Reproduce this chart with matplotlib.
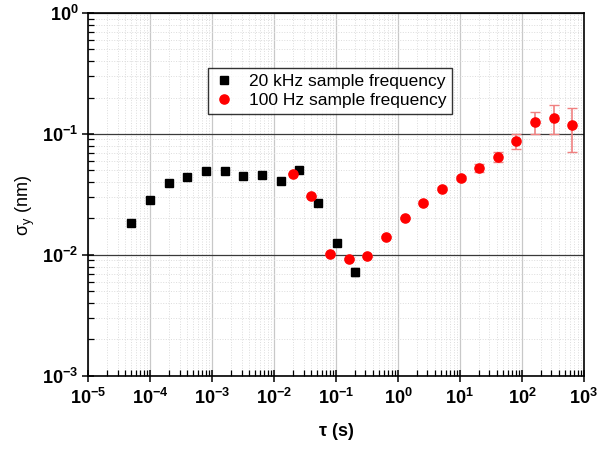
import matplotlib
matplotlib.use("Agg")
import matplotlib.pyplot as plt
from matplotlib.ticker import FixedLocator, FixedFormatter, LogLocator, NullFormatter

plt.rcParams['font.family'] = ['Liberation Sans', 'DejaVu Sans']
plt.rcParams['mathtext.fontset'] = 'custom'
plt.rcParams['mathtext.rm'] = 'Liberation Sans'
plt.rcParams['mathtext.bf'] = 'Liberation Sans:bold'
plt.rcParams['mathtext.it'] = 'Liberation Sans:italic'

# 20 kHz series
tau_fast = [5e-5, 1e-4, 2e-4, 4e-4, 8e-4, 1.6e-3, 3.2e-3, 6.4e-3,
            1.28e-2, 2.56e-2, 5.12e-2, 0.1024, 0.2048]
sig_fast = [0.0184, 0.0286, 0.0391, 0.0441, 0.0495, 0.0497, 0.0447, 0.0458,
            0.0411, 0.0507, 0.0267, 0.0125, 0.00724]
err_fast = [0.0003, 0.0003, 0.0003, 0.0003, 0.0003, 0.0003, 0.0003, 0.0003,
            0.0004, 0.0005, 0.0005, 0.0004, 0.0005]

# 100 Hz series
tau_slow = [0.02, 0.04, 0.08, 0.16, 0.32, 0.64, 1.28, 2.56, 5.12, 10.24,
            20.48, 40.96, 81.92, 163.84, 327.68, 655.36]
sig_slow = [0.0470, 0.0306, 0.0102, 0.0093, 0.0098, 0.0141, 0.0202, 0.0271,
            0.0353, 0.0435, 0.0527, 0.0649, 0.0870, 0.1257, 0.1364, 0.118]
err_slow = [0.0004, 0.0003, 0.0002, 0.0002, 0.0002, 0.0003, 0.0004, 0.0006,
            0.0009, 0.0015, 0.0038, 0.0060, 0.0120, 0.025, 0.036, 0.047]

xdecades = [-5, -4, -3, -2, -1, 0, 1, 2, 3]
ydecades = [-3, -2, -1, 0]

fig = plt.figure(figsize=(6.12, 4.49), dpi=100)
ax = fig.add_axes([0.1438, 0.163, 0.8102, 0.808])
ax.set_xscale('log')
ax.set_yscale('log')
ax.set_xlim(1e-5, 1e3)
ax.set_ylim(1e-3, 1)

# grid
ax.xaxis.set_minor_locator(LogLocator(base=10, subs=range(2, 10), numticks=20))
ax.yaxis.set_minor_locator(LogLocator(base=10, subs=range(2, 10), numticks=20))
ax.grid(which='minor', color='#dcdcdc', linestyle=':', linewidth=0.7)
ax.grid(which='major', axis='x', color='#c8c8c8', linestyle='-', linewidth=0.9)
ax.grid(which='major', axis='y', color='#3a3a3a', linestyle='-', linewidth=0.9)
ax.set_axisbelow(True)

ax.errorbar(tau_fast, sig_fast, yerr=err_fast, fmt='none', ecolor='#555555',
            elinewidth=1, capsize=3)
ax.errorbar(tau_slow, sig_slow, yerr=err_slow, fmt='none', ecolor='#f08080',
            elinewidth=1.2, capsize=3.5)
ax.plot(tau_fast, sig_fast, 's', color='black', markersize=6.2,
        label='20 kHz sample frequency')
ax.plot(tau_slow, sig_slow, 'o', color='#ff0000', markersize=6.6,
        label='100 Hz sample frequency')

ax.xaxis.set_major_locator(FixedLocator([10.0 ** d for d in xdecades]))
ax.xaxis.set_major_formatter(FixedFormatter([r'$\mathbf{10^{%d}}$' % d for d in xdecades]))
ax.yaxis.set_major_locator(FixedLocator([10.0 ** d for d in ydecades]))
ax.yaxis.set_major_formatter(FixedFormatter([r'$\mathbf{10^{%d}}$' % d for d in ydecades]))
ax.xaxis.set_minor_formatter(NullFormatter())
ax.yaxis.set_minor_formatter(NullFormatter())

ax.tick_params(which='major', direction='inout', length=8, width=1.1,
               labelsize=13, color='black')
ax.tick_params(axis='x', which='major', pad=5)
ax.tick_params(axis='y', which='major', pad=3)
ax.tick_params(which='minor', direction='in', length=4, width=0.9, color='black')
for s in ax.spines.values():
    s.set_linewidth(1.2)
    s.set_color('black')

ax.set_xlabel(r'$\mathbf{\tau}$ (s)', fontsize=13, fontweight='bold', labelpad=9)
ax.set_ylabel(r'$\mathrm{\sigma_y}$ (nm)', fontsize=13)
ax.yaxis.set_label_coords(-0.102, 0.47)

leg = ax.legend(loc='center', bbox_to_anchor=(0.488, 0.785), fontsize=12.5,
                frameon=True, fancybox=False, edgecolor='black',
                handletextpad=0.8, borderpad=0.35, labelspacing=0.25,
                handlelength=1.2)
leg.get_frame().set_linewidth(1.0)

fig.savefig('out.png', dpi=100)
